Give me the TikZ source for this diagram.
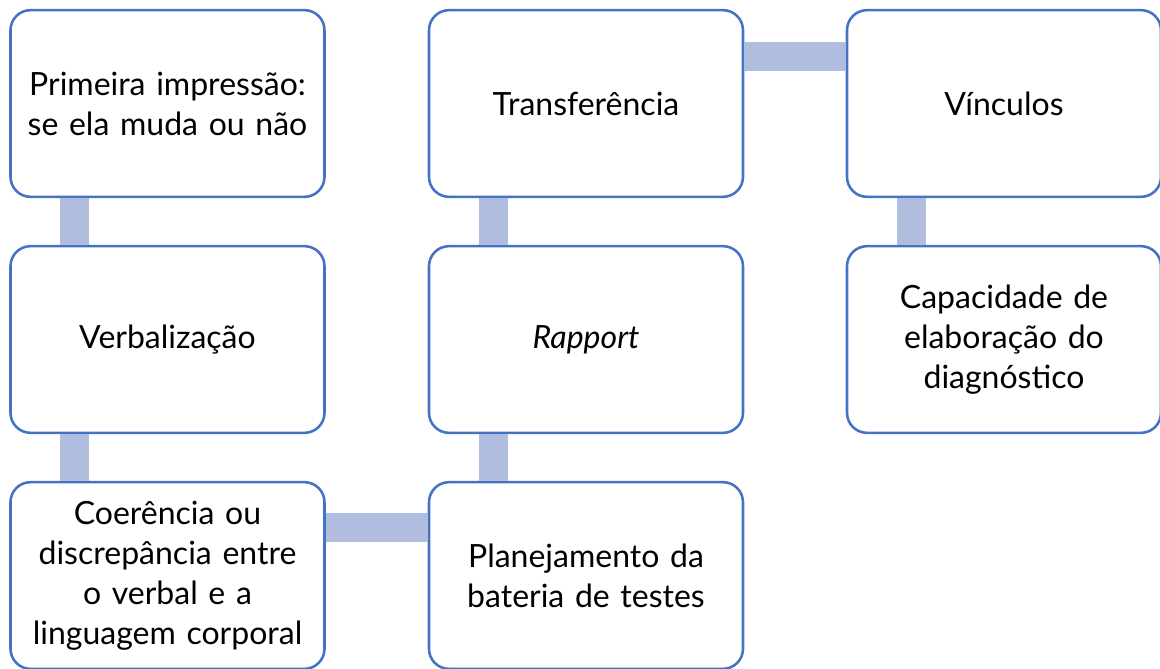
\documentclass[tikz,border=0pt]{standalone}
\usepackage{fontspec}
\setmainfont{Lato}
\definecolor{boxline}{HTML}{4472C4}
\definecolor{connfill}{HTML}{B0BDDF}
\begin{document}
\begin{tikzpicture}[x=0.75pt,y=-0.75pt,
  card/.style={draw=boxline, line width=1.9pt, fill=white, rounded corners=15pt,
    minimum width=235.5pt, minimum height=140pt, inner sep=0pt,
    align=center, font=\fontsize{24}{30}\selectfont, text width=232pt},
  conn/.style={draw=connfill, line width=21.75pt}]
\useasboundingbox (0,0) rectangle (1160,668);
\node[card] (a1) at (167.5,103.5) {Primeira impressão:\\se ela muda ou não};
\node[card] (a2) at (167.5,339.5) {Verbalização};
\node[card] (a3) at (167.5,575.5) {Coerência ou\\discrepância entre\\o verbal e a\\linguagem corporal};
\node[card] (b1) at (586,103.5) {Transferência};
\node[card] (b2) at (586,339.5) {\textit{Rapport}};
\node[card] (b3) at (586,575.5) {Planejamento da\\bateria de testes};
\node[card] (c1) at (1004,103.5) {Vínculos};
\node[card] (c2) at (1004,339.5) {Capacidade de\\elaboração do\\diagnóstico};
\draw[conn] ([xshift=-69.75pt]a1.south) -- ([xshift=-69.75pt]a2.north);
\draw[conn] ([xshift=-69.75pt]a2.south) -- ([xshift=-69.75pt]a3.north);
\draw[conn] ([yshift=36pt]a3.east) -- ([yshift=36pt]b3.west);
\draw[conn] ([xshift=-69.75pt]b3.north) -- ([xshift=-69.75pt]b2.south);
\draw[conn] ([xshift=-69.75pt]b2.north) -- ([xshift=-69.75pt]b1.south);
\draw[conn] ([yshift=35.25pt]b1.east) -- ([yshift=35.25pt]c1.west);
\draw[conn] ([xshift=-69.75pt]c1.south) -- ([xshift=-69.75pt]c2.north);
\end{tikzpicture}
\end{document}
